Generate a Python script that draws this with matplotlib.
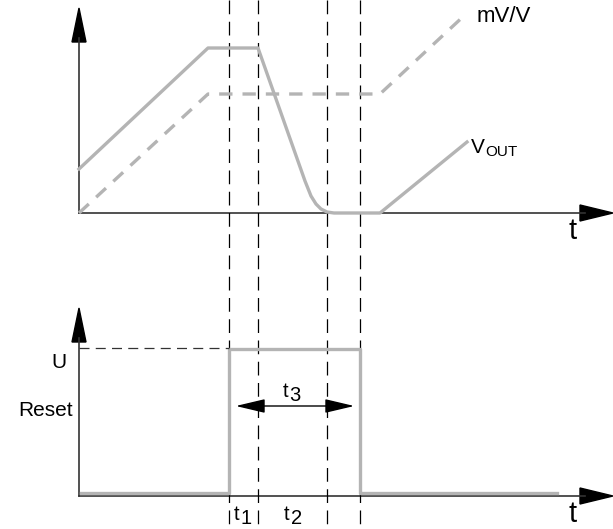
import matplotlib.pyplot as plt
from matplotlib.patches import FancyArrowPatch

plt.rcParams['font.family'] = ['Liberation Sans', 'DejaVu Sans']

# time markers (dashed verticals)
t_marks = [229, 258, 327, 360]

# upper panel: Vout and mV/V (x, y in drawing units, y grows downward)
vout_x = [79, 208, 258, 305, 311, 316, 321, 327, 334, 380, 467]
vout_y = [169, 48, 48, 181, 196, 204, 209, 212, 213, 213, 142]
mvv_x = [79, 208, 380, 467]
mvv_y = [213, 94, 94, 13]

# lower panel: reset pulse
reset_x = [81, 229, 229, 360, 360, 557]
reset_y = [493, 493, 349, 349, 493, 493]

grey = '#b4b4b4'

fig = plt.figure(figsize=(6.13, 5.29), dpi=100)
ax = fig.add_axes([0, 0, 1, 1])
ax.set_xlim(0, 613)
ax.set_ylim(529, 0)
ax.axis('off')

# axes with arrows
for y0, ytop in [(213, 8), (496, 308)]:
    ax.plot([79, 79], [y0, ytop + 30], color='#333333', lw=1.2)
    ax.plot([79, 585], [y0, y0], color='#333333', lw=1.2)
    ax.add_patch(plt.Polygon([[72, ytop + 34], [86, ytop + 34], [79, ytop]],
                             closed=True, color='black'))
    ax.add_patch(plt.Polygon([[580, y0 - 8], [580, y0 + 8], [613, y0]],
                             closed=True, color='black'))
    ax.text(573, y0 + 18, 't', fontsize=21, ha='center', va='center')

# dashed vertical markers
for x in t_marks:
    ax.plot([x, x], [0, 529], color='black', lw=0.9, dashes=(11, 6))

ax.plot(vout_x, vout_y, color=grey, lw=2.4, solid_joinstyle='round')
ax.plot(mvv_x, mvv_y, color=grey, lw=2.4, dashes=(4, 3))
ax.plot(reset_x, reset_y, color=grey, lw=2.4)

# U level
ax.plot([79, 229], [348, 348], color='#333333', lw=0.9, dashes=(8, 5))

# t3 double arrow
ax.add_patch(FancyArrowPatch((233, 406), (357, 406),
                             arrowstyle='<|-|>,head_length=0.55,head_width=0.13',
                             mutation_scale=33, color='black', lw=1))

ax.text(477, 17, 'mV/V', fontsize=16, ha='left', va='center')
ax.text(471, 153, 'V', fontsize=15, ha='left', va='baseline')
ax.text(485, 156, 'OUT', fontsize=11, ha='left', va='baseline')
ax.text(59, 363, 'U', fontsize=15, ha='center', va='center')
ax.text(46, 411, 'Reset', fontsize=15, ha='center', va='center')


def sub_label(x, y, main, idx):
    ax.text(x, y, main, fontsize=14.5, ha='left', va='baseline')
    ax.text(x + 6.5, y + 4, idx, fontsize=14.5, ha='left', va='baseline')


sub_label(283, 397, 't', '3')
sub_label(234, 520, 't', '1')
sub_label(284, 520, 't', '2')

fig.savefig('out.png', dpi=100)
